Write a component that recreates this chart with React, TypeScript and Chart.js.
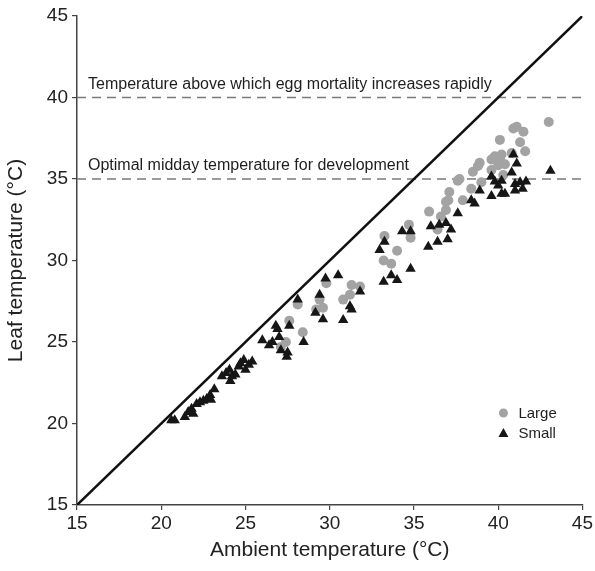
import React, { useEffect, useRef } from "react";
import { Chart, registerables } from "chart.js";

Chart.register(...registerables);

const xTicks = [15, 20, 25, 30, 35, 40, 45];
const yTicks = [15, 20, 25, 30, 35, 40, 45];

const largeAmbient = [
  29.8, 31.3, 31.8, 31.2, 30.8, 29.4, 29.2, 29.6, 28.1, 27.6, 28.4, 27.4, 27.1,
  35.9, 36.6, 36.4, 36.9, 34.7, 34.8, 33.25, 34.0, 33.2, 33.65,
  37.6, 37.1, 36.9,
  43.0, 41.1, 40.9, 41.5, 40.1, 41.3, 41.6, 40.8, 40.2, 39.8, 39.6, 40.1, 40.4, 40.0,
  38.9, 38.8, 38.5, 39.6, 40.3, 37.7, 39.0, 38.4, 37.04, 37.9,
];
const largeLeaf = [
  28.6, 28.5, 28.4, 27.9, 27.6, 27.6, 27.0, 27.1, 27.3, 26.3, 25.6, 25.0, 24.7,
  33.0, 32.7, 31.9, 33.1, 32.2, 31.4, 31.5, 30.6, 30.0, 29.8,
  34.9, 34.2, 33.6,
  38.5, 38.2, 38.1, 37.9, 37.4, 37.25, 36.7, 36.6, 36.5, 36.4, 36.2, 36.2, 35.9, 35.85,
  36.0, 35.8, 35.45, 35.55, 35.25, 35.0, 34.8, 34.4, 33.7, 33.7,
];

const smallAmbient = [
  20.6, 20.8, 21.4, 21.6, 21.8, 21.9, 22.1, 22.3, 22.5, 22.7, 22.9, 22.95, 23.15,
  23.6, 23.85, 24.05, 24.1, 24.2, 24.4, 24.6, 24.7, 24.9, 25.0, 25.2, 25.4,
  26.0, 26.4, 26.6, 27.0, 26.8, 26.9, 27.6, 27.1, 27.5, 27.45, 28.45, 28.1, 29.4, 29.15,
  29.6, 29.75, 30.5, 31.8, 31.2, 31.3, 30.8,
  33.25, 32.96, 34.3, 34.8, 33.65, 33.2, 34.0, 34.8,
  36.0, 36.5, 36.9, 37.2, 35.85, 36.4, 37.0, 37.6,
  43.1, 40.9, 41.1, 40.8, 39.6, 39.8, 40.2, 40.0, 38.9, 41.0, 41.3, 41.65, 41.0, 41.45,
  39.6, 40.2, 40.4, 38.4, 38.6,
];
const smallLeaf = [
  20.2, 20.2, 20.4, 20.7, 20.9, 20.6, 21.2, 21.3, 21.4, 21.5, 21.75, 21.45, 22.1,
  22.9, 23.1, 23.3, 22.6, 22.9, 23.0, 23.5, 23.7, 23.9, 23.3, 23.6, 23.8,
  25.1, 24.8, 25.0, 25.3, 26.0, 25.8, 26.0, 24.5, 24.35, 24.1, 25.0, 27.6, 27.9, 26.8,
  26.4, 28.9, 29.1, 28.1, 27.2, 27.0, 26.35,
  31.15, 30.64, 31.8, 31.8, 29.1, 28.7, 28.8, 29.5,
  32.1, 32.2, 32.3, 31.9, 30.85, 31.15, 31.3, 32.9,
  35.5, 36.5, 35.95, 35.4, 35.15, 34.85, 34.9, 34.6, 34.3, 34.7, 34.8, 34.85, 34.3, 34.4,
  33.95, 34.1, 34.1, 33.7, 33.5,
];

const thresholdValues = [40, 35];
const thresholdLabels = [
  "Temperature above which egg mortality increases rapidly",
  "Optimal midday temperature for development",
];
const seriesNames = ["Large", "Small"];

const FONT = '"Liberation Sans", Arial, Helvetica, sans-serif';
const GRAY = "#a3a3a3";
const BLACK = "#161616";

const annotationPlugin = {
  id: "annotations",
  afterDatasetsDraw(chart: any) {
    const { ctx, scales, chartArea } = chart;
    const xs = scales.x;
    const ys = scales.y;
    ctx.save();
    ctx.font = `16px ${FONT}`;
    ctx.fillStyle = "#1e1e1e";
    ctx.textAlign = "left";
    ctx.textBaseline = "alphabetic";
    thresholdValues.forEach((v, i) => {
      const px = xs.getPixelForValue(15) + 11;
      const py = ys.getPixelForValue(v) - 9;
      ctx.fillText(thresholdLabels[i], px, py);
    });
    // legend
    const lx = chartArea.right - 79;
    const ly = chartArea.bottom - 92;
    ctx.fillStyle = GRAY;
    ctx.beginPath();
    ctx.arc(lx, ly, 4.5, 0, Math.PI * 2);
    ctx.fill();
    ctx.fillStyle = BLACK;
    const ty = ly + 20;
    ctx.beginPath();
    ctx.moveTo(lx, ty - 5);
    ctx.lineTo(lx + 5, ty + 4);
    ctx.lineTo(lx - 5, ty + 4);
    ctx.closePath();
    ctx.fill();
    ctx.fillStyle = "#1e1e1e";
    ctx.font = `15px ${FONT}`;
    ctx.textBaseline = "middle";
    ctx.fillText(seriesNames[0], lx + 15, ly + 1);
    ctx.fillText(seriesNames[1], lx + 15, ty + 1);
    ctx.restore();
  },
};

export default function App() {
  const ref = useRef<HTMLCanvasElement | null>(null);
  useEffect(() => {
    if (!ref.current) return;
    Chart.defaults.font.family = FONT;
    const chart = new Chart(ref.current, {
      type: "scatter",
      data: {
        datasets: [
          {
            label: seriesNames[1],
            data: smallAmbient.map((x, i) => ({ x, y: smallLeaf[i] })),
            pointStyle: "triangle",
            pointRadius: 6,
            backgroundColor: BLACK,
            borderColor: BLACK,
            borderWidth: 0,
            order: 1,
          },
          {
            label: seriesNames[0],
            data: largeAmbient.map((x, i) => ({ x, y: largeLeaf[i] })),
            pointStyle: "circle",
            pointRadius: 5,
            backgroundColor: GRAY,
            borderColor: GRAY,
            borderWidth: 0,
            order: 2,
          },
          {
            type: "line",
            label: "1:1",
            data: [
              { x: xTicks[0], y: yTicks[0] },
              { x: xTicks[xTicks.length - 1], y: yTicks[yTicks.length - 1] },
            ],
            borderColor: "#111",
            borderWidth: 2.5,
            pointRadius: 0,
            showLine: true,
            order: 3,
          } as any,
          ...thresholdValues.map((v) => ({
            type: "line",
            label: "t" + v,
            data: [
              { x: xTicks[0], y: v },
              { x: xTicks[xTicks.length - 1], y: v },
            ],
            borderColor: "#7a7a7a",
            borderWidth: 1.5,
            borderDash: [9, 6],
            pointRadius: 0,
            showLine: true,
            order: 4,
          } as any)),
        ],
      },
      options: {
        animation: false,
        responsive: false,
        layout: { padding: { top: 16, right: 10, left: 0, bottom: 0 } },
        plugins: { legend: { display: false }, tooltip: { enabled: false } },
        scales: {
          x: {
            type: "linear",
            min: 15,
            max: 45,
            afterBuildTicks: (s: any) => {
              s.ticks = xTicks.map((v) => ({ value: v }));
            },
            afterFit: (s: any) => {
              s.height = 66;
            },
            ticks: { font: { size: 19 }, color: "#222", padding: 2 },
            grid: { display: true, drawOnChartArea: false, drawTicks: true, tickLength: 5, color: "#444", lineWidth: 1.2 },
            border: { display: true, color: "#444", width: 1.5 },
            title: { display: true, text: "Ambient temperature (°C)", font: { size: 21 }, color: "#222", padding: { top: 4, bottom: 8 } },
          },
          y: {
            type: "linear",
            min: 15,
            max: 45,
            afterBuildTicks: (s: any) => {
              s.ticks = yTicks.map((v) => ({ value: v }));
            },
            afterFit: (s: any) => {
              s.width = 77;
            },
            ticks: { font: { size: 19 }, color: "#222", padding: 4 },
            grid: { display: true, drawOnChartArea: false, drawTicks: true, tickLength: 5, color: "#444", lineWidth: 1.2 },
            border: { display: true, color: "#444", width: 1.5 },
            title: { display: true, text: "Leaf temperature (°C)", font: { size: 21 }, color: "#222", padding: { top: 4, bottom: 4 } },
          },
        },
      },
      plugins: [annotationPlugin],
    });
    return () => chart.destroy();
  }, []);
  return (
    <div style={{ position: "absolute", left: 0, top: 0, width: 595, height: 571, background: "#fff" }}>
      <canvas ref={ref} width={595} height={571} style={{ display: "block" }} />
    </div>
  );
}
